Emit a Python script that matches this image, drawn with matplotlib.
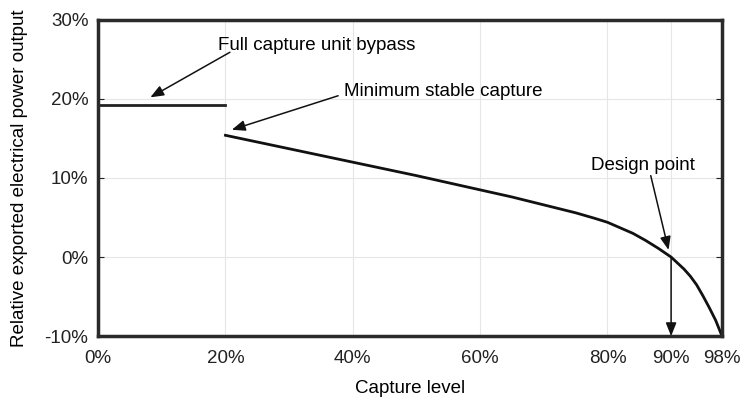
import matplotlib.pyplot as plt

plt.rcParams['font.family'] = ['Liberation Sans', 'DejaVu Sans']

bypass_x = [0, 20]
bypass_y = [19.2, 19.2]

capture_x = [20, 30, 40, 50, 60, 65, 70, 75, 78, 80, 82, 84, 86, 88, 90, 92, 93, 94, 95, 96, 97, 97.5, 98]
capture_y = [15.4, 13.7, 12.0, 10.3, 8.5, 7.6, 6.6, 5.6, 4.9, 4.4, 3.7, 3.0, 2.1, 1.1, 0.0, -1.5, -2.4,
             -3.5, -4.9, -6.4, -8.0, -9.0, -10.0]

xticks = [0, 20, 40, 60, 80, 90, 98]
yticks = [-10, 0, 10, 20, 30]

fig, ax = plt.subplots(figsize=(7.49, 4.05), dpi=100)
fig.subplots_adjust(left=0.131, right=0.964, top=0.951, bottom=0.17)

ax.plot(bypass_x, bypass_y, color='#222222', lw=2)
ax.plot(capture_x, capture_y, color='#111111', lw=2, solid_joinstyle='round')

ax.set_xlim(0, 98)
ax.set_ylim(-10, 30)
ax.set_xticks(xticks)
ax.set_xticklabels([f'{t}%' for t in xticks])
ax.set_yticks(yticks)
ax.set_yticklabels([f'{t}%' for t in yticks])
ax.tick_params(axis='both', labelsize=13.5, colors='#222222', direction='in', length=4)
ax.tick_params(axis='x', length=0, pad=10)
ax.tick_params(axis='y', right=True, pad=7)
ax.grid(True, color='#e6e6e6', lw=0.8)
for s in ax.spines.values():
    s.set_linewidth(2.5)
    s.set_color('#2a2a2a')

ax.set_xlabel('Capture level', fontsize=13.5, labelpad=9)
ax.set_ylabel('Relative exported electrical power output', fontsize=13.5, labelpad=12)

arrow = dict(arrowstyle='-|>,head_length=0.5,head_width=0.2', color='#111111', lw=1.1,
             mutation_scale=16, shrinkA=0, shrinkB=0)

ax.text(34.4, 26.8, 'Full capture unit bypass', ha='center', va='center', fontsize=13.5)
ax.annotate('', xy=(8.2, 20.2), xytext=(20.7, 25.9), arrowprops=arrow)

ax.text(54.2, 20.9, 'Minimum stable capture', ha='center', va='center', fontsize=13.5)
ax.annotate('', xy=(21.0, 16.1), xytext=(37.7, 20.4), arrowprops=arrow)

ax.text(85.6, 11.6, 'Design point', ha='center', va='center', fontsize=13.5)
ax.annotate('', xy=(89.6, 0.9), xytext=(86.8, 10.3), arrowprops=arrow)

ax.annotate('', xy=(90, -10), xytext=(90, 0), arrowprops=arrow)

fig.savefig('out.png', dpi=100)
